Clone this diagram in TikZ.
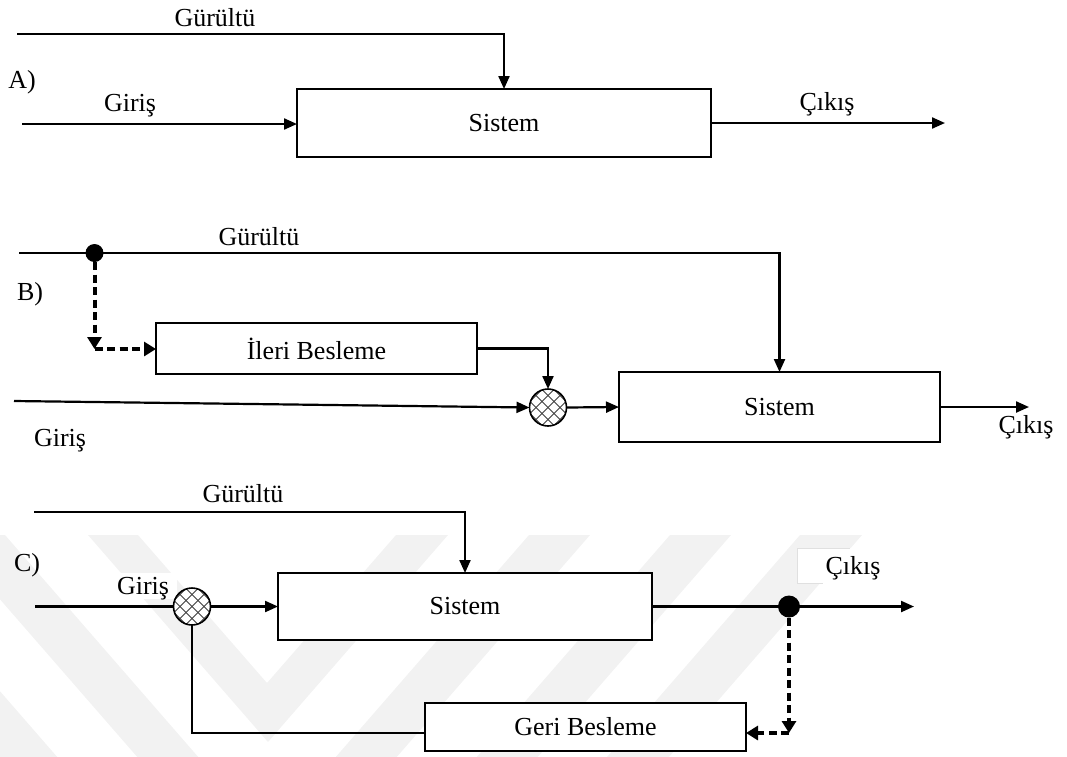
\documentclass[tikz,border=0pt]{standalone}
\usepackage{fontspec}
\setmainfont{Liberation Serif}
\usetikzlibrary{arrows.meta,calc}

\tikzset{
  every node/.style={font=\fontsize{26}{30}\selectfont, inner sep=0pt, outer sep=0pt},
  lbl/.style={anchor=base},
  blk/.style n args={2}{draw, line width=1.6pt, fill=white, minimum width=#1, minimum height=#2},
  sumc/.style={circle, fill=white, minimum size=37pt},
  dotnode/.style={circle, fill=black, minimum size=#1},
  conn/.style={line width=2.2pt, -{Triangle[length=13pt,width=11pt]}},
  plain/.style={line width=2.2pt},
  dsh/.style={line width=4pt, dash pattern=on 8pt off 4.5pt, -{Triangle[length=12pt,width=14pt]}},
  wm/.style={fill=black!5},
}

\newcommand{\hatchsum}[1]{%
  \begin{scope}
    \clip (#1.center) circle [radius=18.5pt];
    \foreach \d in {-48,-36,...,48} {
      \draw[black!75, line width=1pt] ($(#1.center)+(\d-30,-30)$) -- ++(60,60);
      \draw[black!75, line width=1pt] ($(#1.center)+(\d-30,30)$) -- ++(60,-60);
    }
  \end{scope}
  \draw[line width=1.6pt] (#1.center) circle [radius=18.5pt];
}

\begin{document}
\begin{tikzpicture}[x=1pt,y=-1pt]
\useasboundingbox (0,0) rectangle (1067,756);

% background emblem: nested light chevrons
\begin{scope}
  \clip (0,0) rectangle (1067,756);
  \fill[wm] (88,535) -- (138,535) -- (267,683) -- (396,535) -- (448,535) -- (268,742) -- cycle;
  \fill[wm] (-56,535) -- (5,535) -- (267,836) -- (529,535) -- (590,535) -- (267,906) -- cycle;
  \fill[wm] (-197,535) -- (-136,535) -- (267,998) -- (670,535) -- (731,535) -- (267,1068) -- cycle;
  \fill[wm] (-328,535) -- (-266,535) -- (267,1148) -- (800,535) -- (862,535) -- (267,1219) -- cycle;
\end{scope}

% ---------------- A) open loop ----------------
\node[lbl] (labA) at (22,88) {A)};
\node[blk={414}{68}] (sysA) at (504,123) {Sistem};
\node[lbl] (noiseA) at (215,26) {Gürültü};
\node[lbl] (inA) at (130,111) {Giriş};
\node[lbl] (outA) at (827,110) {Çıkış};
\coordinate (nA) at (17,34);
\coordinate (iA) at (22,124);
\coordinate (oA) at (945,123);
\draw[conn] (nA) -| (sysA.north);
\draw[conn] (iA) -- (iA -| sysA.west);
\draw[conn] (sysA.east |- oA) -- (oA);

% ---------------- B) feed-forward ----------------
\node[lbl] (labB) at (30,300) {B)};
\node[lbl] (noiseB) at (259,245) {Gürültü};
\node[lbl] (inB) at (60,446) {Giriş};
\node[lbl] (outB) at (1026,433) {Çıkış};
\node[blk={321}{51}] (ffB) at (316.5,348.5) {İleri Besleme};
\node[blk={321}{70}] (sysB) at (779.5,407) {Sistem};
\node[sumc] (sB) at (548,407.5) {};
\hatchsum{sB}
\node[dotnode=18pt] (dB) at (94.5,253) {};
\coordinate (nB) at (19,253);
\coordinate (cB) at (94.5,349);
\coordinate (iB) at (14,401);
\coordinate (oB) at (1029,407);
\draw[plain] (nB) -- (dB.center);
\draw[conn] (dB.center) -| (sysB.north);
\draw[dsh] (dB.south) -- (cB);
\draw[dsh] (cB) -- (ffB.west |- cB);
\draw[conn] (ffB.east) -| (sB.north);
\draw[conn] (iB) -- (sB.west);
\draw[conn] (sB.east) -- (sysB.west);
\draw[conn] (sysB.east) -- (oB);

% ---------------- C) feedback ----------------
\node[lbl] (labC) at (27,571) {C)};
\node[lbl] (noiseC) at (243,502) {Gürültü};
\fill[white] (63,573) rectangle (177,599);
\node[lbl] (inC) at (143,594) {Giriş};
\fill[white] (797,548) rectangle (882,583);
\draw[black!12, line width=1pt] (850,548) -- (797,548) -- (797,583) -- (823,583);
\node[lbl] (outC) at (853,574) {Çıkış};
\node[blk={374}{67}] (sysC) at (465,606.5) {Sistem};
\node[blk={321}{48}] (fbC) at (585.5,727) {Geri Besleme};
\node[sumc] (sC) at (192,606.5) {};
\hatchsum{sC}
\node[dotnode=22pt] (dC) at (789,606.5) {};
\coordinate (nC) at (34,512);
\coordinate (iC) at (35,606.5);
\coordinate (oC) at (914,606.5);
\coordinate (cC) at (789,733);
\draw[conn] (nC) -| (sysC.north);
\draw[plain] (iC) -- (sC.west);
\draw[conn] (sC.east) -- (sysC.west);
\draw[conn] (sysC.east) -- (oC);
\draw[dsh] (dC.south) -- (cC);
\draw[dsh] (cC) -- (fbC.east |- cC);
\draw[plain] (sC.south) |- (fbC.west |- cC);
\end{tikzpicture}
\end{document}
